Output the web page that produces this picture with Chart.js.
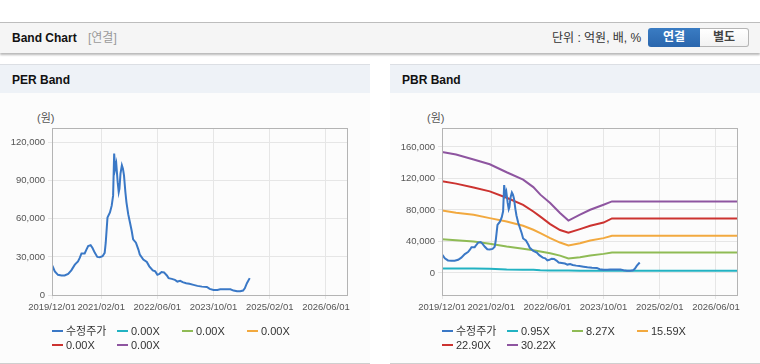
<!DOCTYPE html>
<html><head><meta charset="utf-8">
<script src="https://cdn.jsdelivr.net/npm/chart.js@4.4.0/dist/chart.umd.min.js"></script>
<style>
body{margin:0;width:760px;height:364px;background:#fff;position:relative;overflow:hidden;font-family:Arial,"Liberation Sans","Noto Sans CJK KR",sans-serif;}
.abs{position:absolute;white-space:nowrap;}
#bar{left:0;top:22px;width:760px;height:30px;background:#f5f5f5;border-top:1px solid #bdbdbd;box-shadow:0 2px 2px rgba(0,0,0,0.28);}
.panel{position:absolute;top:64px;width:370px;height:298px;background:#fcfcfc;border-top:1px solid #dcdfe4;border-bottom:1px solid #cfcfcf;}
.phead{position:absolute;left:0;top:0;width:370px;height:28px;background:#eef2f7;}
.ptitle{position:absolute;left:12px;top:8px;font-weight:bold;font-size:12px;line-height:14px;color:#111;}
.unit{position:absolute;left:37px;top:46px;font-size:11px;color:#555;line-height:14px;}
canvas{position:absolute;left:0;top:28px;}
.leg{position:absolute;font-size:11px;color:#333;line-height:14px;}
.leg i{display:inline-block;width:11px;height:2px;vertical-align:middle;margin-right:3px;position:relative;top:-1px;}
</style></head><body>
<div id="bar" class="abs">
  <div class="abs" style="left:12px;top:8px;font-weight:bold;font-size:12px;line-height:14px;color:#111;">Band Chart</div>
  <div class="abs" style="left:88px;top:8px;font-size:12px;line-height:14px;color:#9a9a9a;">[연결]</div>
  <div class="abs" style="left:552px;top:8px;font-size:12px;line-height:14px;color:#333;">단위 : 억원, 배, %</div>
  <div class="abs" style="left:648px;top:5px;width:52px;height:19px;background:linear-gradient(#3a7cc3,#2a66ad);border-radius:3px 0 0 3px;color:#fff;font-weight:bold;font-size:12px;line-height:19px;text-align:center;">연결</div>
  <div class="abs" style="left:700px;top:5px;width:48px;height:17px;background:linear-gradient(#fff,#f2f2f2);border:1px solid #b5b5b5;border-left:none;border-radius:0 3px 3px 0;color:#444;font-weight:bold;font-size:12px;line-height:17px;text-align:center;">별도</div>
</div>

<div class="panel" style="left:0;">
  <div class="phead"><div class="ptitle">PER Band</div></div>
  <div class="unit">(원)</div>
  <canvas id="per" width="370" height="270"></canvas>
  <div id="legPer"></div>
</div>
<div class="panel" style="left:390px;">
  <div class="phead"><div class="ptitle">PBR Band</div></div>
  <div class="unit">(원)</div>
  <canvas id="pbr" width="370" height="270"></canvas>
  <div id="legPbr"></div>
</div>

<script>
// ---- data (x = months since 2019/12/01) ----
const xTickMonths = [0, 14, 30, 46, 62, 78];
const xTickLabels = ['2019/12/01','2021/02/01','2022/06/01','2023/10/01','2025/02/01','2026/06/01'];
const perYTicks = [0, 30000, 60000, 90000, 120000];
const pbrYTicks = [0, 40000, 80000, 120000, 160000];

const priceMonths = [0.1,0.8,1.7,2.7,3.6,4.6,5.5,6.5,7.4,7.9,8.4,9.3,9.8,10.3,11.0,11.5,12.2,12.9,13.6,14.4,15.0,15.3,15.8,16.5,17.0,17.4,17.7,18.0,18.3,18.7,19.0,19.2,19.5,19.9,20.2,20.5,20.9,21.2,21.7,22.2,22.7,23.1,23.9,24.6,25.0,26.0,27.0,27.7,28.7,29.4,30.0,30.6,31.2,31.9,32.7,33.2,34.1,35.0,35.7,36.5,37.2,38.2,39.1,40.3,41.4,42.7,44.1,44.9,46.0,47.1,47.9,49.3,50.8,51.7,52.7,53.6,54.4,54.9,55.5,56.3];
const priceValues = [23100,18600,15900,15400,15400,16700,19400,23900,26500,29200,32700,32700,35800,38500,39300,37200,33200,30000,29700,30500,33200,41200,61100,65000,70400,78300,111500,99600,103500,88900,81000,83600,95600,102200,99600,94200,81000,73000,63700,57100,50400,43800,41200,35800,31900,27900,26000,22600,19400,18600,15900,16700,18100,17800,15400,13300,12700,11900,10600,11200,10100,9300,8800,8000,7200,6600,6400,4800,4000,4000,4500,4500,4500,3500,2900,2900,3500,5300,9300,13300];

const bandMonths = [0,4,9,13.6,18.4,23.1,26,28,30.8,33.6,36,39.3,42.2,46,48.4,84];
const pbr095 = [5600,5600,5600,5400,4300,4200,4000,3500,3200,3000,3000,2900,2900,2900,2900,2900];
const pbr827 = [42900,41500,39900,37000,33500,30600,28800,27200,25000,22000,18300,20000,22100,24200,25900,25900];
const pbr1559 = [79400,76500,73900,69600,65400,59900,54800,50500,44300,38600,34800,37800,41200,44200,47100,47100];
const pbr2290 = [116300,113400,108500,103600,95500,86500,78000,71500,62000,54500,51000,55600,59900,64000,69200,69200];
const pbr3022 = [153700,150300,144000,138000,127800,118500,109000,99400,88700,76000,66500,74000,80200,86600,90800,90800];

const priceLabel = '수정주가';
const perLabels = ['0.00X','0.00X','0.00X','0.00X','0.00X'];
const pbrLabels = ['0.95X','8.27X','15.59X','22.90X','30.22X'];
const colors = ['#3a78c6','#22b2c2','#8fbb55','#f2a93f','#cc3330','#8e55a0'];

const pts = (xs, ys) => xs.map((x, i) => ({x, y: ys[i]}));

function makeChart(id, datasets, yMin, yMax, yTicks) {
  const frame = {
    id: 'frame',
    afterDraw(c) {
      const a = c.chartArea, ctx = c.ctx;
      ctx.save(); ctx.strokeStyle = '#b4b4b4'; ctx.lineWidth = 1;
      ctx.strokeRect(Math.round(a.left) + 0.5, Math.round(a.top) + 0.5, Math.round(a.right - a.left), Math.round(a.bottom - a.top));
      ctx.restore();
    }
  };
  const tickFont = {family: 'Arial, "Liberation Sans", sans-serif', size: 9.5};
  return new Chart(document.getElementById(id), {
    type: 'line',
    data: {datasets: datasets.map((d, i) => ({
      label: d.label, data: d.data, borderColor: colors[i], backgroundColor: colors[i],
      borderWidth: 2, pointRadius: 0, tension: 0, fill: false
    }))},
    options: {
      responsive: false, animation: false, devicePixelRatio: 1,
      layout: {padding: {left: 0, right: 23, top: 35, bottom: 48}},
      plugins: {legend: {display: false}, tooltip: {enabled: false}},
      scales: {
        x: {
          type: 'linear', min: 0, max: 84,
          afterBuildTicks: ax => { ax.ticks = xTickMonths.map(v => ({value: v})); },
          afterFit: ax => { ax.height = 20; },
          ticks: {callback: v => xTickLabels[xTickMonths.indexOf(v)] || '', font: tickFont, color: '#555', maxRotation: 0, autoSkip: false, padding: 3},
          grid: {color: '#e6e6e6', tickLength: 4, drawTicks: true},
          border: {display: false}
        },
        y: {
          type: 'linear', min: yMin, max: yMax,
          afterBuildTicks: ax => { ax.ticks = yTicks.map(v => ({value: v})); },
          afterFit: ax => { ax.width = 52; },
          ticks: {callback: v => v.toLocaleString('en-US'), font: tickFont, color: '#555', padding: 3},
          grid: {color: '#e6e6e6', tickLength: 4},
          border: {display: false}
        }
      }
    },
    plugins: [frame]
  });
}

const perSets = [{label: priceLabel, data: pts(priceMonths, priceValues)}]
  .concat(perLabels.map(l => ({label: l, data: []})));
const pbrBands = [pbr095, pbr827, pbr1559, pbr2290, pbr3022];
const pbrSets = [{label: priceLabel, data: pts(priceMonths, priceValues)}]
  .concat(pbrLabels.map((l, i) => ({label: l, data: pts(bandMonths, pbrBands[i])})));

makeChart('per', perSets, 0, 131600, perYTicks);
makeChart('pbr', pbrSets, -28000, 184000, pbrYTicks);

function legend(id, sets) {
  const el = document.getElementById(id);
  sets.forEach((s, i) => {
    const row = Math.floor(i / 4), col = i % 4;
    const d = document.createElement('div');
    d.className = 'leg';
    d.style.left = (52 + col * 65) + 'px';
    d.style.top = (259 + row * 14) + 'px';
    d.innerHTML = '<i style="background:' + colors[i] + '"></i>' + s.label;
    el.appendChild(d);
  });
}
legend('legPer', perSets);
legend('legPbr', pbrSets);
</script>
</body></html>
